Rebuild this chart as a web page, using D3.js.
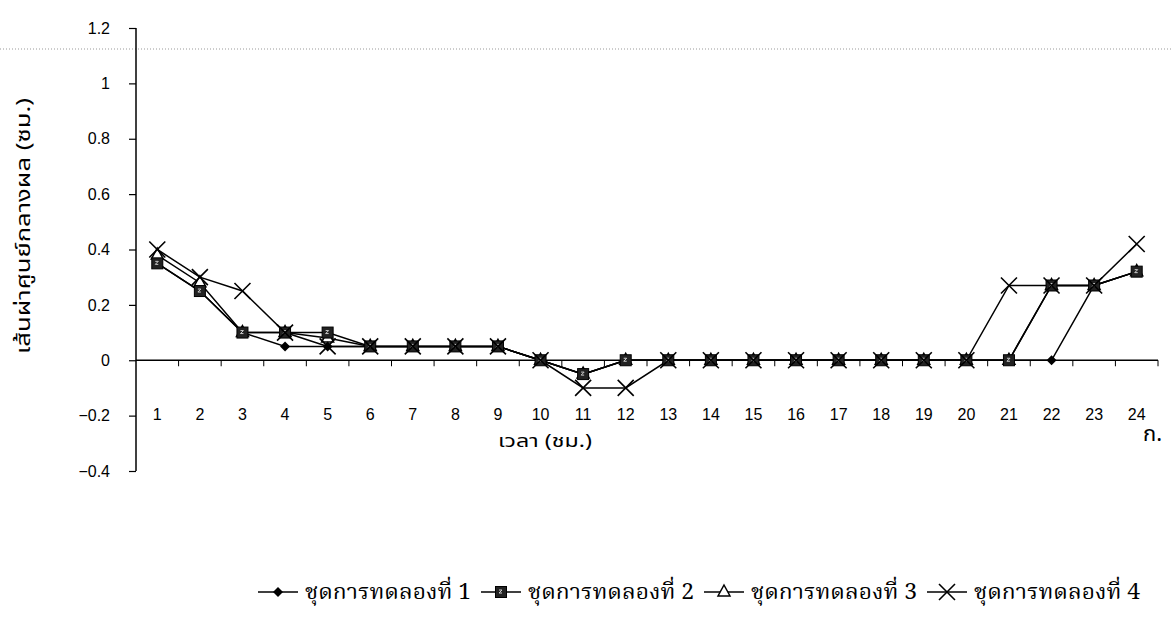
<!DOCTYPE html>
<html><head><meta charset="utf-8">
<script src="https://cdn.jsdelivr.net/npm/d3@7"></script>
<style>
body{margin:0;background:#fff;}
svg{display:block;}
</style></head>
<body><svg id="c" width="1173" height="633"></svg>
<script>
const hours = d3.range(1,25).map(String);
const yTicks = [-0.4,-0.2,0,0.2,0.4,0.6,0.8,1,1.2];
const seriesNames = ["ชุดการทดลองที่ 1","ชุดการทดลองที่ 2","ชุดการทดลองที่ 3","ชุดการทดลองที่ 4"];
const set1 = [0.35,0.25,0.10,0.05,0.05,0.05,0.05,0.05,0.05,0,-0.05,0,0,0,0,0,0,0,0,0,0,0,0.27,0.32];
const set2 = [0.35,0.25,0.10,0.10,0.10,0.05,0.05,0.05,0.05,0,-0.05,0,0,0,0,0,0,0,0,0,0,0.27,0.27,0.32];
const set3 = [0.38,0.28,0.10,0.10,0.08,0.05,0.05,0.05,0.05,0,-0.05,0,0,0,0,0,0,0,0,0,0,0.27,0.27,0.32];
const set4 = [0.40,0.30,0.25,0.10,0.05,0.05,0.05,0.05,0.05,0,-0.10,-0.10,0,0,0,0,0,0,0,0,0.27,0.27,0.27,0.42];
const yTitle = "เส้นผ่าศูนย์กลางผล (ซม.)";
const xTitle = "เวลา (ชม.)";
const panelLabel = "ก.";

const svg = d3.select("#c");
const L=136, R=1158, T=28, B=471;
const x = d3.scaleBand().domain(hours).range([L,R]);
const y = d3.scaleLinear().domain([-0.4,1.2]).range([B,T]);
const numFont = "'Liberation Sans', Arial, sans-serif";
const thaiFont = "'Noto Sans Thai','Tahoma','DejaVu Sans',sans-serif";
const thaiSerif = "'Noto Serif Thai','Angsana New','Noto Sans Thai','DejaVu Serif',serif";

// scan artifact dotted line
svg.append("line").attr("x1",0).attr("x2",1173).attr("y1",49).attr("y2",49)
  .attr("stroke","#999").attr("stroke-width",1).attr("stroke-dasharray","1,2");

// y axis
const yAx = svg.append("g").attr("transform",`translate(${L},0)`)
  .call(d3.axisLeft(y).tickValues(yTicks).tickSize(7).tickPadding(19).tickFormat(d=>d3.format("")(+d.toFixed(1))));
yAx.select(".domain").attr("d",`M0,${T}V${B}`).attr("stroke","#000").attr("stroke-width",1.5);
yAx.selectAll(".tick line").attr("stroke","#000").attr("stroke-width",1.2);
yAx.selectAll(".tick text").attr("font-family",numFont).attr("font-size",16).attr("fill","#000");

// x axis at y=0
const xAx = svg.append("g").attr("transform",`translate(0,${y(0)})`)
  .call(d3.axisBottom(x).tickSize(0).tickPadding(y(-0.2)-y(0)-7));
xAx.select(".domain").attr("d",`M${L},0H${R}`).attr("stroke","#000").attr("stroke-width",1.5);
xAx.selectAll(".tick text").attr("font-family",numFont).attr("font-size",16).attr("fill","#000");
// category boundary ticks
const bounds = hours.map(h=>x(h)+x.bandwidth());
xAx.selectAll(".btick").data(bounds).join("line").attr("class","btick")
  .attr("x1",d=>d).attr("x2",d=>d).attr("y1",0).attr("y2",6).attr("stroke","#000").attr("stroke-width",1);

// titles
svg.append("text").attr("transform","translate(30,226) rotate(-90)").attr("text-anchor","middle")
  .attr("font-family",thaiFont).attr("font-size",20).attr("textLength",256).attr("lengthAdjust","spacingAndGlyphs").text(yTitle);
svg.append("text").attr("x",545).attr("y",447).attr("text-anchor","middle")
  .attr("font-family",thaiFont).attr("font-size",18).attr("textLength",94).attr("lengthAdjust","spacingAndGlyphs").text(xTitle);
svg.append("text").attr("x",1143).attr("y",441).attr("font-family",thaiFont).attr("font-size",22).text(panelLabel);

// markers
function marker(g,type,cx,cy){
  if(type==="diamond"){
    g.append("path").attr("d",`M${cx},${cy-5}L${cx+5},${cy}L${cx},${cy+5}L${cx-5},${cy}Z`).attr("fill","#000");
  } else if(type==="square"){
    g.append("rect").attr("x",cx-5.5).attr("y",cy-5.5).attr("width",11).attr("height",11).attr("fill","#222").attr("stroke","#000");
    g.append("path").attr("d",`M${cx-2},${cy-2}l3,0l-3,3l3,0`).attr("stroke","#ccc").attr("fill","none").attr("stroke-width",1);
  } else if(type==="triangle"){
    g.append("path").attr("d",`M${cx},${cy-7}L${cx+6},${cy+4}L${cx-6},${cy+4}Z`).attr("fill","#fff").attr("stroke","#000").attr("stroke-width",1.5);
  } else if(type==="x"){
    g.append("path").attr("d",`M${cx-8},${cy-8}L${cx+8},${cy+8}M${cx+8},${cy-8}L${cx-8},${cy+8}`).attr("stroke","#000").attr("stroke-width",1.6);
  }
}
const series = [
  {vals:set3,type:"triangle"},
  {vals:set1,type:"diamond"},
  {vals:set2,type:"square"},
  {vals:set4,type:"x"}
];
const line = d3.line().x((d,i)=>x(hours[i])+x.bandwidth()/2).y(d=>y(d));
const plot = svg.append("g");
series.forEach(s=>{
  plot.append("path").datum(s.vals).attr("d",line).attr("fill","none").attr("stroke","#000").attr("stroke-width",1.5);
});
series.forEach(s=>{
  const g = plot.append("g");
  s.vals.forEach((v,i)=>marker(g,s.type,x(hours[i])+x.bandwidth()/2,y(v)));
});

// legend
const legTypes = ["diamond","square","triangle","x"];
const leg = svg.append("g");
let lx = 258; const ly = 592;
seriesNames.forEach((n,i)=>{
  leg.append("line").attr("x1",lx).attr("x2",lx+40).attr("y1",ly).attr("y2",ly).attr("stroke","#000").attr("stroke-width",1.5);
  marker(leg,legTypes[i],lx+20,ly);
  leg.append("text").attr("x",lx+47).attr("y",ly+7).attr("font-family",thaiSerif).attr("font-size",21)
    .attr("textLength",166).attr("lengthAdjust","spacingAndGlyphs").text(n);
  lx += 47 + 166 + 10;
});
</script></body></html>
